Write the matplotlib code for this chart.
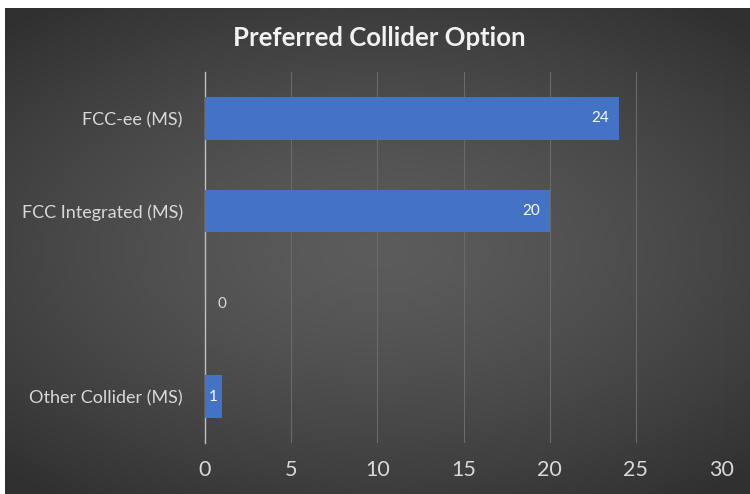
import numpy as np
import matplotlib
matplotlib.use('Agg')
import matplotlib.pyplot as plt

# Chart data
categories = ['FCC-ee (MS)', 'FCC Integrated (MS)', '', 'Other Collider (MS)']
values = [24, 20, 0, 1]
xticks = [0, 5, 10, 15, 20, 25, 30]

plt.rcParams['font.family'] = ['Lato', 'DejaVu Sans']

fig = plt.figure(figsize=(7.5, 4.94), dpi=100)
fig.patch.set_facecolor('white')

# dark radial background panel (white strip on top/left as in the screenshot)
bg = fig.add_axes([5 / 750, 0, 745 / 750, 486 / 494])
yy, xx = np.mgrid[-1:1:300j, -1:1:450j]
r = np.sqrt((xx * 0.85) ** 2 + (yy * 1.0) ** 2)
shade = 0.36 - 0.17 * np.clip(r / 1.25, 0, 1) ** 1.4
bg.imshow(np.dstack([shade, shade, shade]), aspect='auto', extent=[0, 1, 0, 1])
bg.axis('off')

# plotting area
ax = fig.add_axes([205 / 750, 51 / 494, (722 - 205) / 750, (443 - 72) / 494])
ax.patch.set_alpha(0)

y = np.arange(len(categories))
ax.barh(y, values, height=0.46, color='#4472c4', linewidth=0, zorder=3)

ax.set_xlim(0, 30)
ax.set_ylim(len(categories) - 0.5, -0.5)
ax.set_xticks(xticks)
ax.set_yticks(y)
ax.set_yticklabels(categories)
ax.grid(axis='x', color='#6a6a6a', linewidth=0.8, zorder=0)
for s in ['top', 'right', 'bottom']:
    ax.spines[s].set_visible(False)
ax.spines['left'].set_color('#bfbfbf')
ax.spines['left'].set_linewidth(1.0)
ax.tick_params(axis='both', length=0, colors='#d9d9d9')
ax.tick_params(axis='x', labelsize=15.5, pad=12)
ax.tick_params(axis='y', labelsize=13, pad=16)

# data labels
for yi, v in zip(y, values):
    if v == 0:
        ax.annotate(str(v), (0, yi), xytext=(9, 0), textcoords='offset points',
                    ha='left', va='center', color='#d9d9d9', fontsize=11)
    elif v < 3:
        ax.annotate(str(v), (v / 2, yi), ha='center', va='center', color='white', fontsize=11)
    else:
        ax.annotate(str(v), (v, yi), xytext=(-7, 0), textcoords='offset points',
                    ha='right', va='center', color='white', fontsize=11)

fig.text(379 / 750, 1 - 38 / 494, 'Preferred Collider Option', ha='center', va='center',
         color='#f2f2f2', fontsize=18.5, fontweight='bold')

fig.savefig('out.png', dpi=100)
